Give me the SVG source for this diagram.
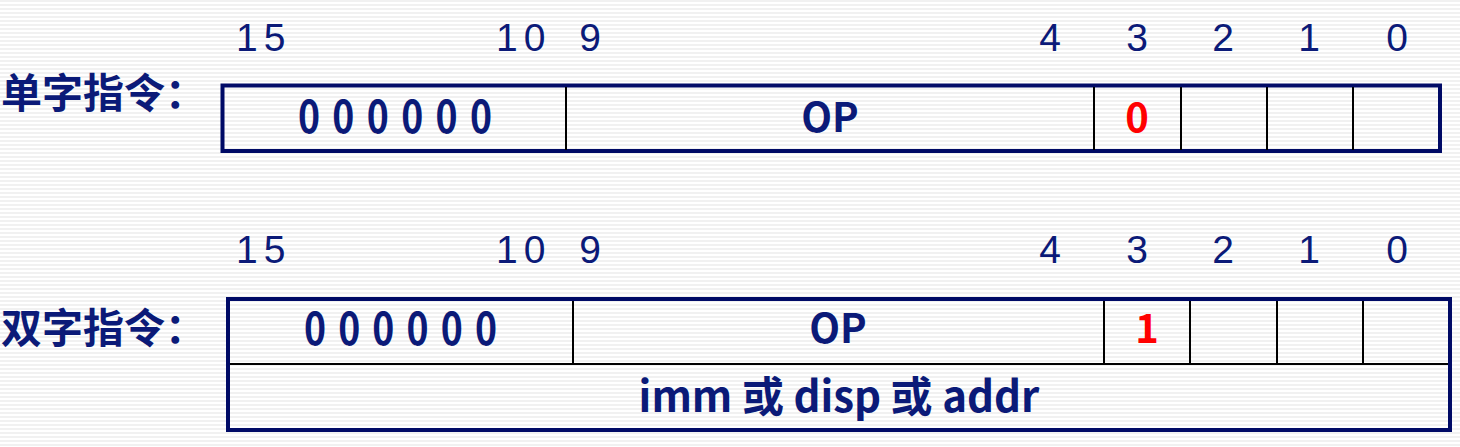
<svg xmlns="http://www.w3.org/2000/svg" width="1460" height="447" viewBox="0 0 1460 447">
<defs>
<pattern id="stripes" x="0" y="0" width="8" height="4" patternUnits="userSpaceOnUse">
<rect width="8" height="4" fill="#ffffff"/>
<rect y="0" width="8" height="2" fill="#f1f1f1"/>
</pattern>
</defs>
<style>
.num{font-family:"Liberation Sans",Arial,sans-serif;font-size:39px;fill:#0b1a78}
.lbl{font-family:"Noto Sans CJK SC","Noto Sans",sans-serif;font-size:41px;font-weight:bold;fill:#0b1a78}
.fld{font-family:"Noto Sans CJK SC","Noto Sans",sans-serif;font-size:40px;font-weight:bold;fill:#0b1a78;text-anchor:middle}
.zero{font-size:44px}
.big{font-size:42px}
.red{fill:#ff0000}
.outer{fill:none;stroke:#000a66;stroke-width:4}
.div{stroke:#000000;stroke-width:2}
</style>
<rect width="1460" height="447" fill="url(#stripes)"/>
<g id="single">
<text class="num" x="236" y="51" letter-spacing="6">15</text>
<text class="num" x="496" y="51" letter-spacing="6">10</text>
<text class="num" x="590" y="51" text-anchor="middle">9</text>
<text class="num" x="1050" y="51" text-anchor="middle">4</text>
<text class="num" x="1137" y="51" text-anchor="middle">3</text>
<text class="num" x="1223" y="51" text-anchor="middle">2</text>
<text class="num" x="1309" y="51" text-anchor="middle">1</text>
<text class="num" x="1397" y="51" text-anchor="middle">0</text>
<text class="lbl" x="1" y="108">单字指令：</text>
<rect class="outer" x="222.5" y="85.5" width="1217.5" height="65.5"/>
<line class="div" x1="566" y1="87" x2="566" y2="150"/>
<line class="div" x1="1094" y1="87" x2="1094" y2="150"/>
<line class="div" x1="1181" y1="87" x2="1181" y2="150"/>
<line class="div" x1="1267" y1="87" x2="1267" y2="150"/>
<line class="div" x1="1353" y1="87" x2="1353" y2="150"/>
<text class="fld zero" y="133" transform="scale(0.85 1)"><tspan x="363.5">0</tspan><tspan x="404">0</tspan><tspan x="444.5">0</tspan><tspan x="485">0</tspan><tspan x="525.4">0</tspan><tspan x="565.9">0</tspan></text>
<text class="fld" x="830" y="132">OP</text>
<text class="fld red" x="1137" y="132">0</text>
</g>
<g id="double">
<text class="num" x="236" y="263" letter-spacing="6">15</text>
<text class="num" x="496" y="263" letter-spacing="6">10</text>
<text class="num" x="590" y="263" text-anchor="middle">9</text>
<text class="num" x="1050" y="263" text-anchor="middle">4</text>
<text class="num" x="1137" y="263" text-anchor="middle">3</text>
<text class="num" x="1223" y="263" text-anchor="middle">2</text>
<text class="num" x="1309" y="263" text-anchor="middle">1</text>
<text class="num" x="1397" y="263" text-anchor="middle">0</text>
<text class="lbl" x="1" y="343">双字指令：</text>
<rect class="outer" x="228" y="299" width="1222" height="131"/>
<line class="div" x1="230" y1="364" x2="1448" y2="364"/>
<line class="div" x1="573" y1="301" x2="573" y2="364"/>
<line class="div" x1="1104" y1="301" x2="1104" y2="364"/>
<line class="div" x1="1190" y1="301" x2="1190" y2="364"/>
<line class="div" x1="1277" y1="301" x2="1277" y2="364"/>
<line class="div" x1="1363" y1="301" x2="1363" y2="364"/>
<text class="fld zero" y="345" transform="scale(0.85 1)"><tspan x="370.6">0</tspan><tspan x="410.8">0</tspan><tspan x="451">0</tspan><tspan x="491.3">0</tspan><tspan x="531.5">0</tspan><tspan x="571.8">0</tspan></text>
<text class="fld" x="838" y="343">OP</text>
<text class="fld red" x="1147" y="343">1</text>
<text class="fld big" x="839" y="412">imm 或 disp 或 addr</text>
</g>
</svg>
